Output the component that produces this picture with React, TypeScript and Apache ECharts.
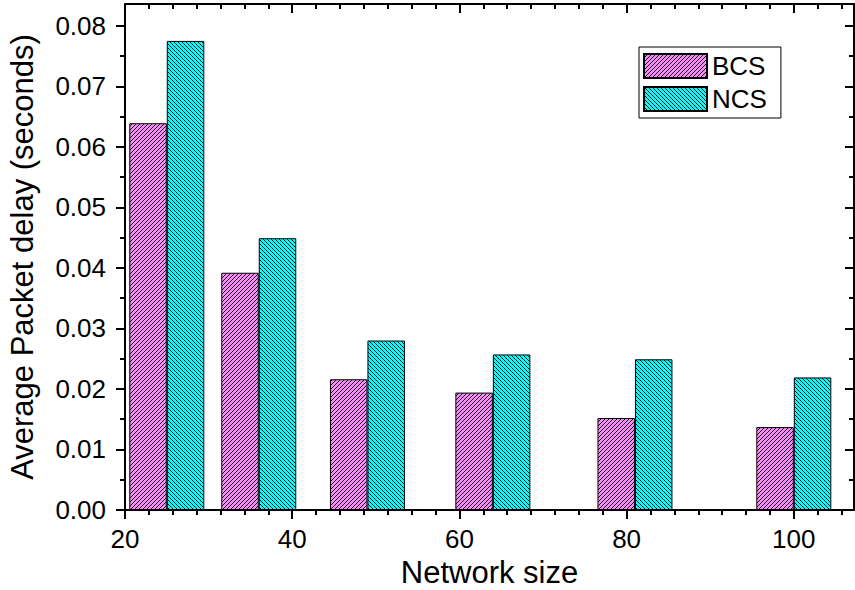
import React, { useEffect, useRef } from "react";
import * as echarts from "echarts";

// ---- data ----
const networkSizes = [25, 36, 49, 64, 81, 100];
const bcsDelay = [0.0639, 0.0392, 0.0216, 0.0194, 0.0152, 0.0137];
const ncsDelay = [0.0775, 0.0449, 0.028, 0.0257, 0.0249, 0.0219];
const seriesNames = ["BCS", "NCS"];
const xMajorTicks = [20, 40, 60, 80, 100];
const yMajorTicks = [0, 0.01, 0.02, 0.03, 0.04, 0.05, 0.06, 0.07, 0.08];

const X_MIN = 20;
const X_MAX = 107.2;
const Y_MIN = 0;
const Y_MAX = 0.0836;
const X_MINOR_STEPS = 7; // subdivisions per major interval on x
const Y_MINOR_STEPS = 2;

const FONT = "'Liberation Sans', Arial, Helvetica, sans-serif";

function minorTicks(min: number, max: number, major: number, steps: number): number[] {
  const out: number[] = [];
  const step = major / steps;
  for (let k = 1; min + k * step < max - 1e-9; k++) {
    if (k % steps !== 0) out.push(+(min + k * step).toFixed(6));
  }
  return out;
}

function makeHatch(bg: string, forward: boolean): HTMLCanvasElement {
  const c = document.createElement("canvas");
  const n = 4;
  c.width = n;
  c.height = n;
  const ctx = c.getContext("2d")!;
  ctx.fillStyle = bg;
  ctx.fillRect(0, 0, n, n);
  ctx.fillStyle = "#111";
  for (let i = 0; i < n; i++) {
    const x = forward ? n - 1 - i : i;
    ctx.fillRect(x, i, 1, 1);
  }
  return c;
}

export default function App() {
  const ref = useRef<HTMLDivElement>(null);

  useEffect(() => {
    if (!ref.current) return;
    const chart = echarts.init(ref.current, undefined, { renderer: "svg" });

    const xMinor = minorTicks(X_MIN, X_MAX, 20, X_MINOR_STEPS);
    const yMinor = minorTicks(Y_MIN, Y_MAX, 0.01, Y_MINOR_STEPS);

    const bcsPattern = { image: makeHatch("#FF88FF", true), repeat: "repeat" };
    const ncsPattern = { image: makeHatch("#00FFFF", false), repeat: "repeat" };

    const lineStyle = { color: "#000", width: 2 };
    const baseX = { type: "value", min: X_MIN, max: X_MAX, splitLine: { show: false } };
    const baseY = { type: "value", min: Y_MIN, max: Y_MAX, splitLine: { show: false } };

    const option: any = {
      animation: false,
      textStyle: { fontFamily: FONT },
      grid: { left: 125, right: 1, top: 4, bottom: 80, containLabel: false, outerBoundsMode: "none" },
      legend: {
        orient: "vertical",
        left: 639,
        top: 47,
        padding: [6, 14, 6, 4],
        itemGap: 7,
        itemWidth: 63,
        itemHeight: 24,
        icon: "rect",
        selectedMode: false,
        borderColor: "#000",
        borderWidth: 1,
        backgroundColor: "#fff",
        textStyle: { fontSize: 26, color: "#000", fontFamily: FONT, lineHeight: 24 },
        data: seriesNames,
      },
      xAxis: [
        {
          ...baseX,
          position: "bottom",
          axisLine: { show: true, onZero: false, lineStyle },
          axisTick: { show: true, inside: false, length: 9, lineStyle, customValues: xMajorTicks },
          axisLabel: {
            show: true,
            customValues: xMajorTicks,
            fontSize: 26,
            color: "#000",
            fontFamily: FONT,
            margin: 16,
          },
          name: "Network size",
          nameLocation: "middle",
          nameGap: 47,
          nameTextStyle: { fontSize: 31, color: "#000", fontFamily: FONT },
        },
        {
          ...baseX,
          position: "bottom",
          axisLine: { show: false, onZero: false },
          axisTick: { show: true, inside: false, length: 5, lineStyle, customValues: xMinor },
          axisLabel: { show: false },
        },
        {
          ...baseX,
          position: "top",
          axisLine: { show: true, onZero: false, lineStyle },
          axisTick: { show: true, inside: true, length: 9, lineStyle, customValues: xMajorTicks },
          axisLabel: { show: false },
        },
        {
          ...baseX,
          position: "top",
          axisLine: { show: false, onZero: false },
          axisTick: { show: true, inside: true, length: 5, lineStyle, customValues: xMinor },
          axisLabel: { show: false },
        },
      ],
      yAxis: [
        {
          ...baseY,
          position: "left",
          axisLine: { show: true, onZero: false, lineStyle },
          axisTick: { show: true, inside: false, length: 9, lineStyle, customValues: yMajorTicks },
          axisLabel: {
            show: true,
            customValues: yMajorTicks,
            formatter: (v: number) => v.toFixed(2),
            fontSize: 26,
            color: "#000",
            fontFamily: FONT,
            margin: 19,
          },
          name: "Average Packet delay (seconds)",
          nameLocation: "middle",
          nameGap: 87,
          nameTextStyle: { fontSize: 31, color: "#000", fontFamily: FONT },
        },
        {
          ...baseY,
          position: "left",
          axisLine: { show: false, onZero: false },
          axisTick: { show: true, inside: false, length: 5, lineStyle, customValues: yMinor },
          axisLabel: { show: false },
        },
        {
          ...baseY,
          position: "right",
          axisLine: { show: true, onZero: false, lineStyle },
          axisTick: { show: true, inside: true, length: 9, lineStyle, customValues: yMajorTicks },
          axisLabel: { show: false },
        },
        {
          ...baseY,
          position: "right",
          axisLine: { show: false, onZero: false },
          axisTick: { show: true, inside: true, length: 5, lineStyle, customValues: yMinor },
          axisLabel: { show: false },
        },
      ],
      series: [
        {
          name: seriesNames[0],
          type: "bar",
          xAxisIndex: 0,
          yAxisIndex: 0,
          barWidth: 37.5,
          barGap: "0%",
          data: networkSizes.map((x, i) => [x, bcsDelay[i]]),
          itemStyle: { color: bcsPattern, borderColor: "#000", borderWidth: 1 },
          emphasis: { disabled: true },
        },
        {
          name: seriesNames[1],
          type: "bar",
          xAxisIndex: 0,
          yAxisIndex: 0,
          barWidth: 37.5,
          barGap: "0%",
          data: networkSizes.map((x, i) => [x, ncsDelay[i]]),
          itemStyle: { color: ncsPattern, borderColor: "#000", borderWidth: 1 },
          emphasis: { disabled: true },
        },
      ],
    };

    chart.setOption(option);
    return () => chart.dispose();
  }, []);

  return (
    <div
      ref={ref}
      style={{ position: "absolute", left: 0, top: 0, width: 855, height: 590, background: "#fff" }}
    />
  );
}
